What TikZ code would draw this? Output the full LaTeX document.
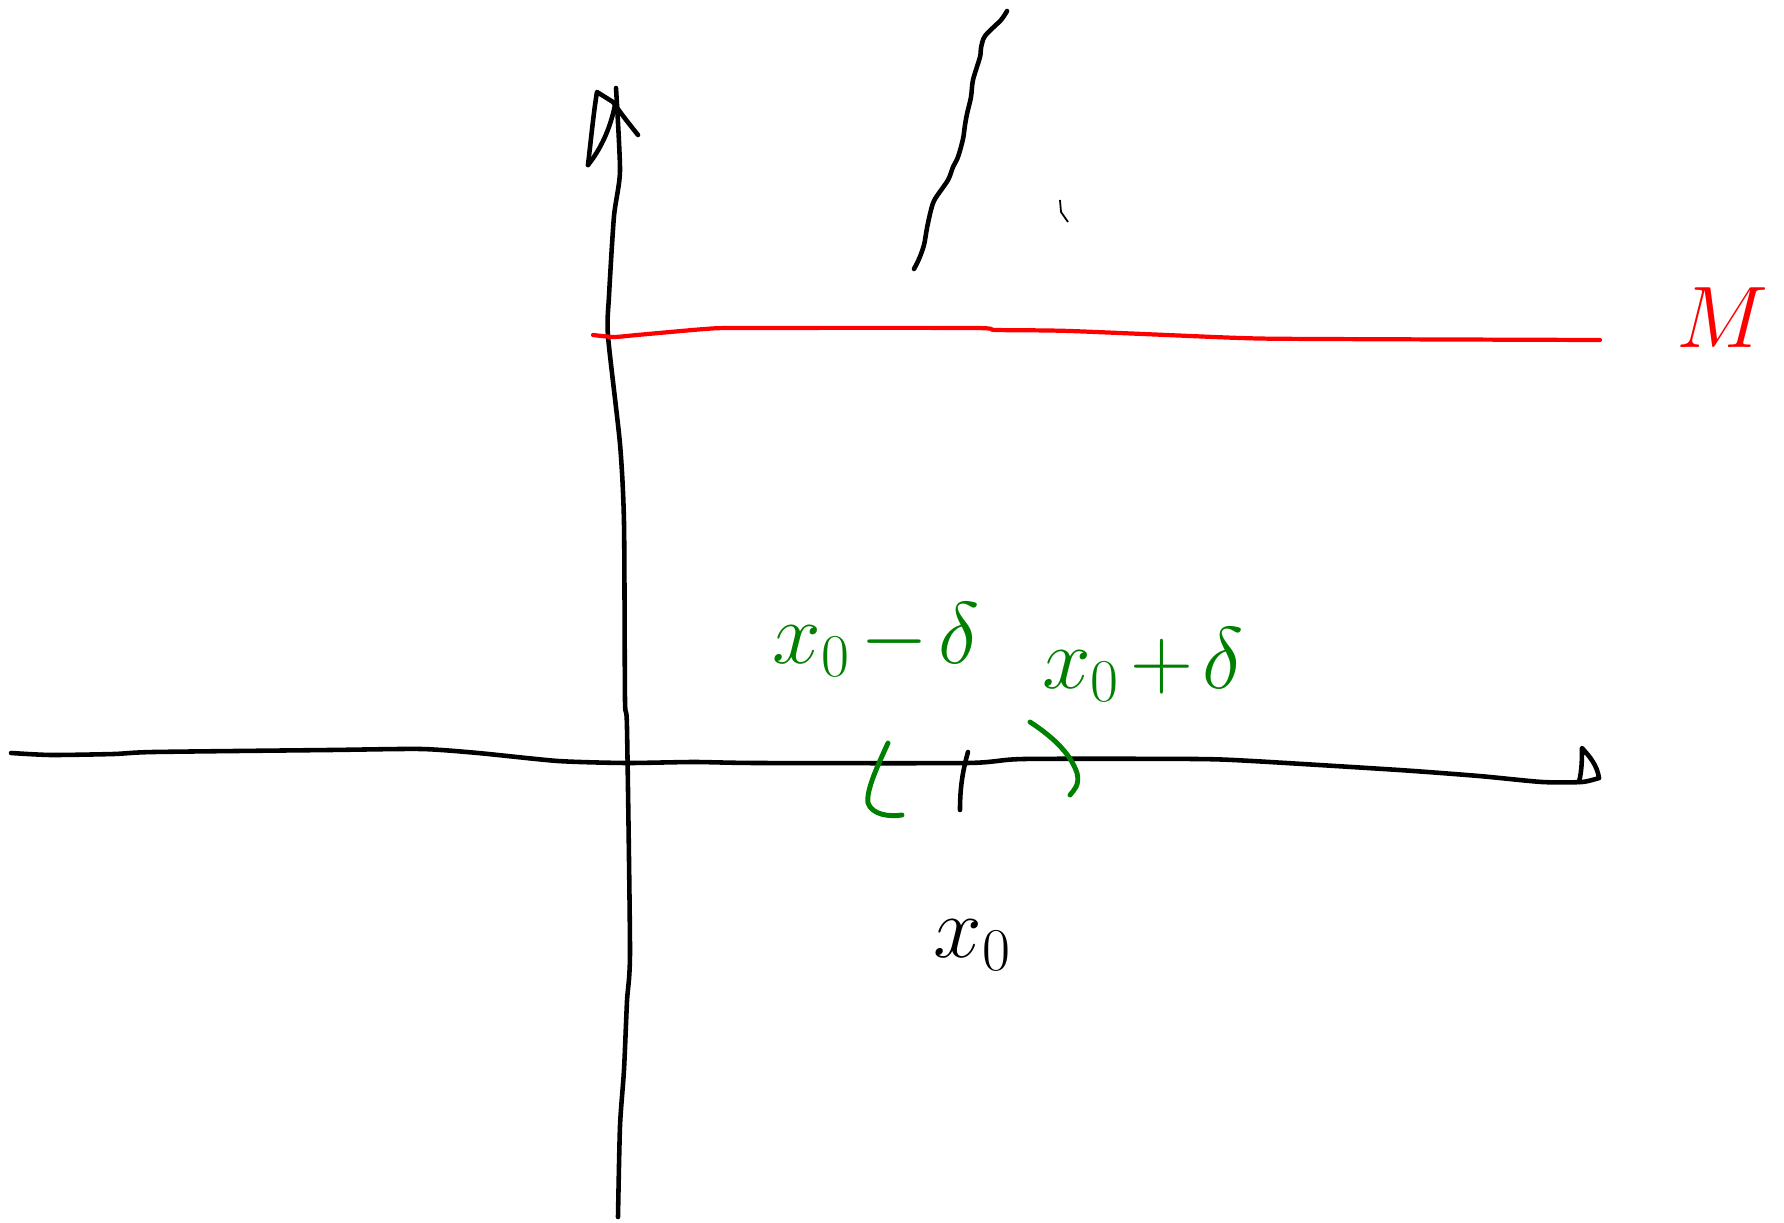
\documentclass[tikz,border=0pt]{standalone}
\usepackage{tikz}
\usepackage{xcolor}
\usetikzlibrary{positioning}

\definecolor{pengreen}{RGB}{0,128,0}
\tikzset{
  inkline/.style={line width=1.3pt, line cap=round, line join=round},
  redline/.style={draw=red, line width=1.2pt, line cap=round, line join=round},
  greenline/.style={draw=pengreen, line width=1.4pt, line cap=round, line join=round},
  inklabel/.style={font=\fontsize{27}{32}\selectfont, inner sep=0pt},
}

\begin{document}
\begin{tikzpicture}[x=0.1mm, y=-0.1mm]
  \useasboundingbox (0,0) rectangle (1784,1223);

  % Vertical axis
  \coordinate (ybot) at (618,1217);
  \coordinate (ytop) at (616,88);
  \draw[inkline] plot[smooth, tension=0.4] coordinates {(ybot) (620,1126) (624,1070) (627,1001) (630,950) (627,728) (625,700) (624,523) (620,444) (608,336) (609,296) (614,216) (620,171) (ytop)};
  \draw[inkline] (588,165) .. controls (592,130) and (594,110) .. (597,92) -- (613,102) .. controls (622,115) and (630,125) .. (638,135);
  \draw[inkline] (588,165) .. controls (600,150) and (610,130) .. (615,105);

  % Horizontal axis
  \coordinate (xleft) at (11,753);
  \coordinate (xright) at (1599,778);
  \draw[inkline] plot[smooth, tension=0.4] coordinates {(xleft) (51,755) (114,754) (154,752) (330,750) (421,749) (478,753) (558,761) (626,763) (694,762) (757,763) (967,763) (1024,759) (1195,759) (1252,761) (1399,770) (1479,776) (1542,782) (1582,782) (xright)};
  \draw[inkline] (1579,782) .. controls (1582,770) and (1582,758) .. (1582,748) .. controls (1590,757) and (1597,765) .. (xright);

  % Bound M
  \coordinate (mleft) at (593,335);
  \coordinate (mright) at (1600,340);
  \draw[redline] plot[smooth, tension=0.4] coordinates {(mleft) (614,337) (637,335) (705,329) (740,328) (973,328) (996,330) (1070,331) (1240,338) (1320,339) (mright)};
  \node[inklabel, text=red, font=\fontsize{36}{40}\selectfont] (mlabel) at (1722,318) {$M$};

  % Graph piece
  \draw[inkline] plot[smooth, tension=0.5] coordinates {(1007,11) (1001,20) (985,36) (981,48) (980,57) (973,80) (971,97) (967,114) (965,125) (963,139) (958,157) (953,167) (948,180) (935,199) (931,210) (927,228) (924,245) (919,259) (914,269)};
  \draw[line width=0.5pt] (1060,200) -- (1061,212) -- (1068,222);

  % Point x0
  \coordinate (tick) at (966,752);
  \draw[inkline] (968,752) .. controls (962,773) and (960,790) .. (960,810);
  \node[inklabel] (xzero) at (973,945) {$x_0$};

  % Interval
  \draw[greenline] (888,743) .. controls (878,765) and (866,790) .. (868,803) .. controls (872,815) and (890,817) .. (902,815);
  \draw[greenline] (1030,722) .. controls (1050,735) and (1070,752) .. (1077,773) .. controls (1080,785) and (1074,790) .. (1070,795);
  \node[inklabel, text=pengreen] (leftend) at (876,640) {$x_0\mskip2mu{-}\mskip2mu\delta$};
  \node[inklabel, text=pengreen] (rightend) at (1143,665) {$x_0\mskip2mu{+}\mskip2mu\delta$};

\end{tikzpicture}
\end{document}
